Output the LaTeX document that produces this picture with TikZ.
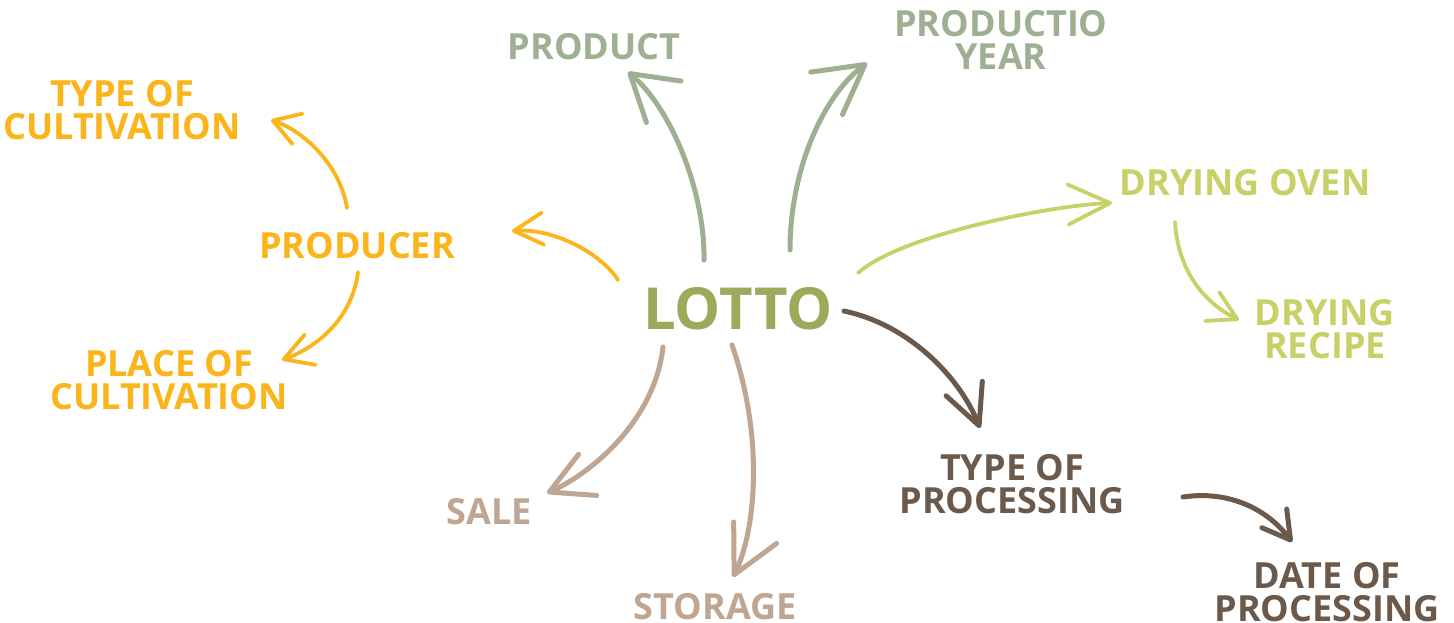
\documentclass[tikz,border=0pt]{standalone}
\usepackage{fontspec}
\setmainfont{Open Sans}
\usetikzlibrary{arrows.meta,calc}
\definecolor{cOrange}{HTML}{FBB419}
\definecolor{cSage}{HTML}{9FB092}
\definecolor{cLotto}{HTML}{9CAA5C}
\definecolor{cYgreen}{HTML}{C8D168}
\definecolor{cBrown}{HTML}{6B5A4C}
\definecolor{cTan}{HTML}{BFA692}
\tikzset{
  lbl/.style={inner sep=0pt, align=center, font=\fontsize{36}{33}\selectfont\bfseries},
  big/.style={inner sep=0pt, font=\fontsize{58}{58}\selectfont\bfseries},
  conn/.style={line width=5pt, line cap=round, line join=round},
  thin/.style={line width=3.8pt, line cap=round, line join=round},
}
\newcommand{\barb}[2]{-{Straight Barb[length=#1pt,width=#2pt,round]}}
\begin{document}
\begin{tikzpicture}[x=1pt,y=-1pt]
\useasboundingbox (0,0) rectangle (1454,623);
\fill[white] (0,0) rectangle (1454,623);
% nodes
\node[big, text=cLotto] (lotto) at (738,309) {LOTTO};
\node[lbl, text=cSage] (product) at (594,47) {PRODUCT};
\node[lbl, text=cSage] (year) at (1001,40) {PRODUCTIO\\YEAR};
\node[lbl, text=cOrange] (tcult) at (122,110) {TYPE OF\\CULTIVATION};
\node[lbl, text=cOrange] (producer) at (357,246) {PRODUCER};
\node[lbl, text=cOrange] (pcult) at (169,380) {PLACE OF\\CULTIVATION};
\node[lbl, text=cYgreen] (oven) at (1245,183) {DRYING OVEN};
\node[lbl, text=cYgreen] (recipe) at (1325,329) {DRYING\\RECIPE};
\node[lbl, text=cBrown] (tproc) at (1012,484) {TYPE OF\\PROCESSING};
\node[lbl, text=cBrown] (dproc) at (1327,592) {DATE OF\\PROCESSING};
\node[lbl, text=cTan] (sale) at (489,512) {SALE};
\node[lbl, text=cTan] (storage) at (715,607) {STORAGE};
% connectors
\draw[conn, cSage, \barb{44}{54}] ($(lotto)+(-34,-49)$) .. controls +(1,-70) and +(42,35) .. ($(product)+(34,25)$);
\draw[conn, cSage, \barb{48}{53}] ($(lotto)+(52,-59)$) .. controls +(0,-80) and +(-44,33) .. ($(year)+(-134,23)$);
\draw[thin, cOrange, \barb{29}{32}] ($(lotto)+(-120,-29)$) .. controls +(-18,-28) and +(40,-3) .. ($(producer)+(155,-15)$);
\draw[thin, cOrange, \barb{26}{32}] ($(producer)+(-10,-38)$) .. controls +(-7,-43) and +(33,11) .. ($(tcult)+(149,10)$);
\draw[thin, cOrange, \barb{28}{32}] ($(producer)+(1,26)$) .. controls +(-6,48) and +(33,-12) .. ($(pcult)+(113,-20)$);
\draw[thin, cYgreen, \barb{42}{40}] ($(lotto)+(120,-36)$) .. controls +(42,-38) and +(-60,2) .. ($(oven)+(-133,20)$);
\draw[thin, cYgreen, \barb{28}{32}] ($(oven)+(-70,39)$) .. controls +(3,48) and +(-36,-18) .. ($(recipe)+(-86,-9)$);
\draw[conn, cBrown, \barb{40}{39}] ($(lotto)+(106,2)$) .. controls +(66,14) and +(-20,-50) .. ($(tproc)+(-32,-56)$);
\draw[conn, cBrown, \barb{27}{31}] ($(tproc)+(171,13)$) .. controls +(47,-7) and +(-24,-32) .. ($(dproc)+(-35,-50)$);
\draw[conn, cTan, \barb{42}{45}] ($(lotto)+(-75,38)$) .. controls +(-8,73) and +(45,-20) .. ($(sale)+(58,-19)$);
\draw[conn, cTan, \barb{47}{48}] ($(lotto)+(-6,36)$) .. controls +(33,95) and +(22,-44) .. ($(storage)+(18,-30)$);
\end{tikzpicture}
\end{document}
